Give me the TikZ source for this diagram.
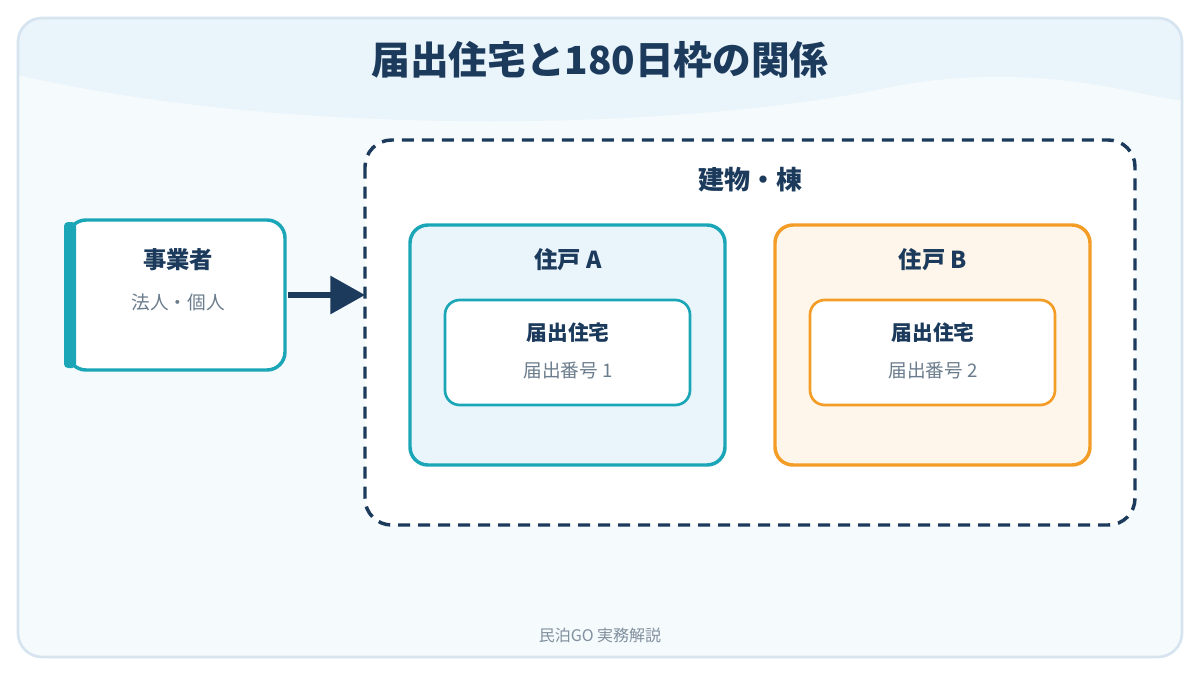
\documentclass[tikz,border=0pt]{standalone}
\usepackage{fontspec}
\setmainfont{Noto Sans CJK JP}
\newfontfamily\jpb{Noto Sans CJK JP Black}
\usetikzlibrary{arrows.meta}
\definecolor{navy}{HTML}{1B3A5C}
\definecolor{teal}{HTML}{1AA6B7}
\definecolor{orng}{HTML}{F39C26}
\definecolor{gtxt}{HTML}{6B7C8C}
\definecolor{frame}{HTML}{D6E4EF}
\definecolor{bgf}{HTML}{F5FAFD}
\definecolor{wave}{HTML}{EAF4FB}
\begin{document}
\begin{tikzpicture}[x=0.75pt,y=-0.75pt,
  box/.style={draw, line width=2.6pt, rounded corners=13.5pt},
  ttl/.style={font=\jpb\fontsize{17.5}{20}\selectfont, text=navy},
  sub/.style={font=\fontsize{14}{16}\selectfont, text=gtxt}]
\useasboundingbox (0,0) rectangle (1200,675);
\fill[white] (0,0) rectangle (1200,675);
\begin{scope}
\clip[rounded corners=18pt] (18,18) rectangle (1182,657);
\fill[bgf] (18,18) rectangle (1182,657);
\fill[wave] (18,18) -- (18,75) .. controls (300,140) and (700,130) .. (900,85) .. controls (1050,60) and (1150,100) .. (1182,100) -- (1182,18) -- cycle;
\end{scope}
\draw[frame, line width=2pt, rounded corners=18pt] (18,18) rectangle (1182,657);
\node[font=\jpb\fontsize{29}{32}\selectfont, text=navy] (title) at (600,60) {届出住宅と180日枠の関係};
\draw[navy, line width=2.6pt, dash pattern=on 9pt off 6pt, rounded corners=20pt, fill=white] (365,140) rectangle (1135,525);
\node[ttl, font=\jpb\fontsize{19.5}{22}\selectfont] (bld) at (750,180) {建物・棟};
% operator
\draw[box, teal, fill=white] (68,220) rectangle (285,370);
\fill[teal, rounded corners=3pt] (64,222) rectangle (76,368);
\node[ttl] (op) at (178,260) {事業者};
\node[sub] (ops) at (178,302) {法人・個人};
\coordinate (bldw) at (365,295);
\draw[navy, line width=4pt, -{Triangle[length=26pt,width=28pt]}] (288,295) -- (bldw);
% unit A
\draw[box, teal, fill=wave] (410,225) rectangle (725,465);
\node[ttl] (ua) at (568,260) {住戸 A};
\draw[box, teal, fill=white, line width=2pt, rounded corners=11pt] (445,300) rectangle (690,405);
\node[ttl, font=\jpb\fontsize{15.5}{17}\selectfont] (ha) at (568,333) {届出住宅};
\node[sub] (na) at (568,370) {届出番号 1};
% unit B
\draw[box, orng, fill=orng!9] (775,225) rectangle (1090,465);
\node[ttl] (ub) at (933,260) {住戸 B};
\draw[box, orng, fill=white, line width=2pt, rounded corners=11pt] (810,300) rectangle (1055,405);
\node[ttl, font=\jpb\fontsize{15.5}{17}\selectfont] (hb) at (933,333) {届出住宅};
\node[sub] (nb) at (933,370) {届出番号 2};
\node[sub, font=\fontsize{12}{14}\selectfont, text=gtxt!85] (ft) at (600,635) {民泊GO 実務解説};
\end{tikzpicture}
\end{document}
